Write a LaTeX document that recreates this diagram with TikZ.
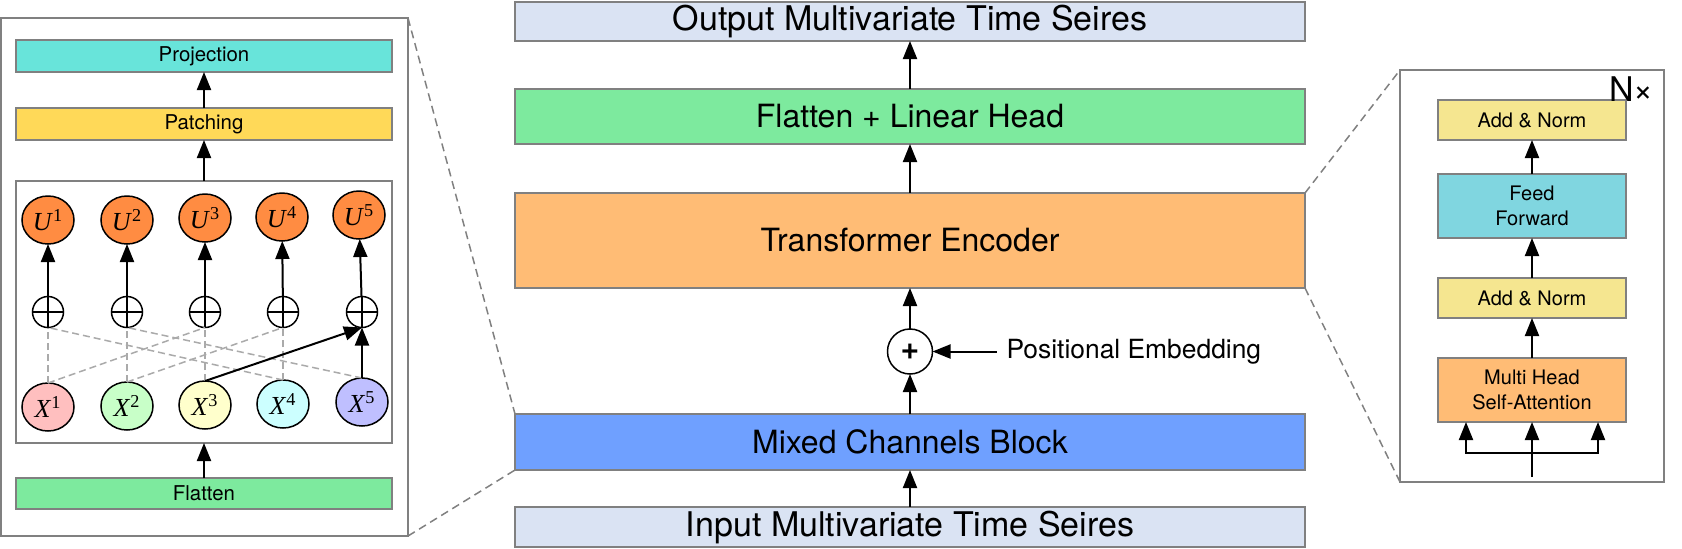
\documentclass[tikz,border=0pt]{standalone}
\usepackage{fontspec}
\setmainfont{TeX Gyre Heros}
\newfontfamily\xserif{Liberation Serif}
\usetikzlibrary{shapes.geometric,positioning,arrows.meta}
\newcommand{\etiq}[2]{{\xserif\textit{#1}\textsuperscript{#2}}}
\definecolor{bordegris}{RGB}{128,128,128}
\definecolor{rayagris}{RGB}{170,170,170}
\definecolor{grisazul}{RGB}{218,227,243}
\definecolor{verde}{RGB}{125,234,158}
\definecolor{naranja}{RGB}{255,188,117}
\definecolor{azulmix}{RGB}{111,160,255}
\definecolor{turquesa}{RGB}{104,228,218}
\definecolor{amarillo}{RGB}{255,217,88}
\definecolor{amarillonorm}{RGB}{245,230,144}
\definecolor{cian}{RGB}{128,214,224}
\definecolor{naranjau}{RGB}{255,140,66}
\definecolor{xrojo}{RGB}{255,191,191}
\definecolor{xverde}{RGB}{200,255,200}
\definecolor{xamarillo}{RGB}{255,255,204}
\definecolor{xcian}{RGB}{204,255,255}
\definecolor{xmorado}{RGB}{191,191,255}
\tikzset{
	bloque/.style={rectangle, draw=bordegris, line width=1pt, minimum width=395pt,
		inner sep=0pt, outer sep=0pt, font=\fontsize{16}{19}\selectfont},
	marco/.style={rectangle, draw=bordegris, line width=1pt, fill=white, inner sep=0pt, outer sep=0pt},
	caja/.style={rectangle, draw=bordegris, line width=1pt, fill=white, minimum width=188pt,
		inner sep=0pt, outer sep=0pt, font=\fontsize{10.2}{12}\selectfont},
	capa/.style={rectangle, draw=bordegris, line width=1pt, minimum width=94pt,
		inner sep=0pt, outer sep=0pt, align=center, font=\fontsize{10}{12.25}\selectfont},
	circulo/.style={ellipse, draw, line width=0.75pt, minimum width=26pt, minimum height=24pt,
		inner sep=0pt, outer sep=0pt, font=\fontsize{13}{15}\selectfont},
	suma/.style={circle, draw, line width=0.75pt, fill=white, minimum size=22.5pt, inner sep=0pt,
		outer sep=0pt, font=\fontsize{16}{17}\selectfont\bfseries},
	sumita/.style={circle, draw, line width=0.75pt, minimum size=15.5pt, inner sep=0pt, outer sep=0pt,
		path picture={\draw[line width=0.75pt] (path picture bounding box.north) -- (path picture bounding box.south)
			(path picture bounding box.west) -- (path picture bounding box.east);}},
	flecha/.style={-{Triangle[length=9pt,width=7pt]}, line width=1pt},
	rayas/.style={draw=rayagris, line width=0.75pt, dash pattern=on 3.5pt off 2pt},
	zoomline/.style={draw=bordegris, line width=0.75pt, dash pattern=on 4pt off 2.5pt}
}

\begin{document}
\begin{tikzpicture}[x=0.5pt, y=-0.5pt]
	\useasboundingbox (0,0) rectangle (1682,548);
	
	\node[bloque, fill=grisazul, minimum height=20pt, font=\fontsize{17}{20}\selectfont] (inp) at (910,527) {Input Multivariate Time Seires};
	\node[bloque, fill=azulmix, minimum height=28pt, above=18.5pt of inp] (mix) {Mixed Channels Block};
	\node[suma, above=20pt of mix] (sum) {+};
	\node[bloque, fill=naranja, minimum height=47.5pt, above=20.5pt of sum] (enc) {Transformer Encoder};
	\node[bloque, fill=verde, minimum height=27.5pt, above=24.5pt of enc] (head) {Flatten + Linear Head};
	\node[bloque, fill=grisazul, minimum height=19.5pt, above=24pt of head, font=\fontsize{17}{20}\selectfont] (out) {Output Multivariate Time Seires};
	\node[font=\fontsize{13.2}{15}\selectfont, inner sep=5pt, outer sep=0pt, right=32pt of sum] (pos) {Positional Embedding};
	
	\draw[flecha] (inp) -- (mix);
	\draw[flecha] (mix) -- (sum);
	\draw[flecha] (sum) -- (enc);
	\draw[flecha] (enc) -- (head);
	\draw[flecha] (head) -- (out);
	\draw[flecha] (pos) -- (sum);
	
	% panel izquierdo
	\node[marco, minimum width=203.5pt, minimum height=259pt] (lframe) at (204.5,277) {};
	\node[caja, fill=verde, minimum height=15.5pt] (flat) at (204,493.5) {Flatten};
	\node[caja, minimum height=131pt, above=17.5pt of flat] (inner) {};
	\node[caja, fill=amarillo, minimum height=16pt, above=20.5pt of inner] (patch) {Patching};
	\node[caja, fill=turquesa, minimum height=16pt, above=18pt of patch] (proj) {Projection};
	
	\node[circulo, fill=naranjau] (u1) at (48,220) {\etiq{U}{1}};
	\node[circulo, fill=naranjau] (u2) at (127,220) {\etiq{U}{2}};
	\node[circulo, fill=naranjau] (u3) at (205,218) {\etiq{U}{3}};
	\node[circulo, fill=naranjau] (u4) at (282,217) {\etiq{U}{4}};
	\node[circulo, fill=naranjau] (u5) at (359,215) {\etiq{U}{5}};
	\node[sumita] (s1) at (48,312) {};
	\node[sumita] (s2) at (127,312) {};
	\node[sumita] (s3) at (205,312) {};
	\node[sumita] (s4) at (283,312) {};
	\node[sumita] (s5) at (362,312) {};
	\node[circulo, fill=xrojo] (x1) at (48,407) {\etiq{X}{1}};
	\node[circulo, fill=xverde] (x2) at (127,406) {\etiq{X}{2}};
	\node[circulo, fill=xamarillo] (x3) at (205,405) {\etiq{X}{3}};
	\node[circulo, fill=xcian] (x4) at (283,404) {\etiq{X}{4}};
	\node[circulo, fill=xmorado] (x5) at (362,402) {\etiq{X}{5}};
	
	\draw[rayas] (x1.north) -- (s1.south);
	\draw[rayas] (x2.north) -- (s2.south);
	\draw[rayas] (x3.north) -- (s3.south);
	\draw[rayas] (x4.north) -- (s4.south);
	\draw[rayas] (x1.north) -- (s3.south);
	\draw[rayas] (x2.north) -- (s4.south);
	\draw[rayas] (x4.north) -- (s1.south);
	\draw[rayas] (x5.north) -- (s2.south);
	\draw[flecha] (x3.north) -- (s5.south);
	\draw[flecha] (x5) -- (s5);
	
	\draw[flecha] (s1) -- (u1);
	\draw[flecha] (s2) -- (u2);
	\draw[flecha] (s3) -- (u3);
	\draw[flecha] (s4) -- (u4);
	\draw[flecha] (s5) -- (u5);
	
	\draw[flecha] (flat) -- (inner);
	\draw[flecha] (inner) -- (patch);
	\draw[flecha] (patch) -- (proj);
	
	% panel derecho
	\node[marco, minimum width=132pt, minimum height=206pt] (rframe) at (1532,276) {};
	\node[capa, fill=naranja, minimum height=32pt] (mha) at (1532,390) {Multi Head\\Self-Attention};
	\node[capa, fill=amarillonorm, minimum height=20pt, above=20pt of mha] (an1) {Add \& Norm};
	\node[capa, fill=cian, minimum height=32pt, above=20pt of an1] (ff) {Feed\\Forward};
	\node[capa, fill=amarillonorm, minimum height=20pt, above=17pt of ff] (an2) {Add \& Norm};
	\node[font=\fontsize{17}{19}\selectfont, inner sep=0pt, below left=3pt and 5pt of rframe.north east] (nx) {N×};
	\coordinate (bin) at (1532,477);
	\coordinate (fork) at (1532,453);
	
	\draw[flecha] (bin) -- (mha);
	\draw[flecha] (fork) -| ([xshift=-33pt]mha.south);
	\draw[flecha] (fork) -| ([xshift=33pt]mha.south);
	\draw[flecha] (mha) -- (an1);
	\draw[flecha] (an1) -- (ff);
	\draw[flecha] (ff) -- (an2);
	
	\draw[zoomline] (lframe.north east) -- (mix.north west);
	\draw[zoomline] (lframe.south east) -- (mix.south west);
	\draw[zoomline] (enc.north east) -- (rframe.north west);
	\draw[zoomline] (enc.south east) -- (rframe.south west);
\end{tikzpicture}
\end{document}
